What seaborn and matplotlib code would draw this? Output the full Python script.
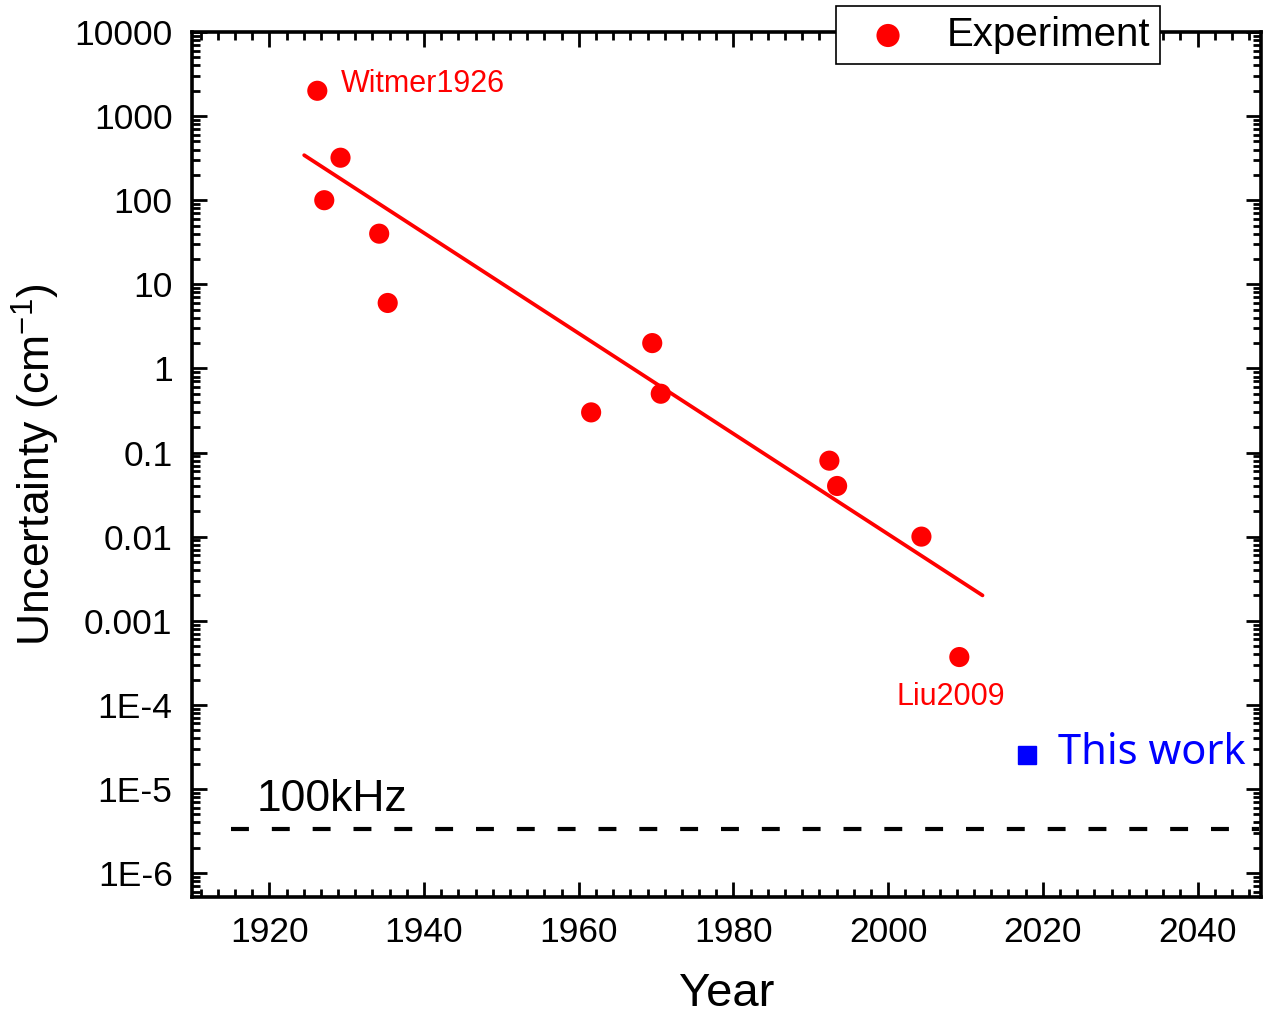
import numpy as np
import pandas as pd
import matplotlib
matplotlib.use("Agg")
import matplotlib.pyplot as plt
from matplotlib.ticker import FixedLocator, LogLocator, NullFormatter
import seaborn as sns

# ---- data ----
exp_years = [1926.2, 1927.1, 1929.2, 1934.2, 1935.3, 1961.6, 1969.5, 1970.6, 1992.4, 1993.4, 2004.3, 2009.2]
exp_unc = [2000, 100, 320, 40, 6, 0.3, 2, 0.5, 0.08, 0.04, 0.01, 3.7e-4]

fit_years = [1924.5, 2012.2]
fit_unc = [343, 0.002]

this_year = [2018]
this_unc = [2.54e-5]

limit_years = [1915, 2048]
limit_unc = [3.34e-6, 3.34e-6]

ytick_vals = [1e4, 1e3, 1e2, 1e1, 1, 0.1, 0.01, 0.001, 1e-4, 1e-5, 1e-6]
ytick_labels = ["10000", "1000", "100", "10", "1", "0.1", "0.01", "0.001", "1E-4", "1E-5", "1E-6"]
xtick_vals = [1920, 1940, 1960, 1980, 2000, 2020, 2040]

sns.set_style("ticks")
plt.rcParams['font.family'] = ['Liberation Sans', 'DejaVu Sans']
plt.rcParams['mathtext.fontset'] = 'custom'
plt.rcParams['mathtext.rm'] = 'Liberation Sans'
for k in ['text.color', 'axes.labelcolor', 'xtick.color', 'ytick.color', 'axes.edgecolor']:
    plt.rcParams[k] = 'black'

fig = plt.figure(figsize=(12.63, 10.19), dpi=100)
ax = fig.add_axes([192/1263, 1-897/1019, (1261-192)/1263, (897-32)/1019])

df = pd.DataFrame({"Year": exp_years, "Unc": exp_unc})
sns.scatterplot(data=df, x="Year", y="Unc", ax=ax, color="#FF0000", s=210,
                edgecolor="none", label="Experiment", zorder=3)
sns.lineplot(x=fit_years, y=fit_unc, ax=ax, color="#FF0000", lw=2.7, zorder=2)
ax.plot(this_year, this_unc, marker="s", ms=12.5, color="#0000FF", ls="none", zorder=3)
ax.plot(limit_years, limit_unc, color="black", lw=3, ls=(0, (4.3, 5.5)), zorder=2)

ax.set_yscale("log")
ax.set_xlim(1910, 2048.2)
ax.set_ylim(10**-6.285, 1e4)

ax.yaxis.set_major_locator(FixedLocator(ytick_vals))
ax.set_yticklabels(ytick_labels)
ax.yaxis.set_minor_locator(LogLocator(base=10, subs=np.arange(2, 10), numticks=50))
ax.yaxis.set_minor_formatter(NullFormatter())
ax.set_xticks(xtick_vals)
ax.xaxis.set_minor_locator(FixedLocator([1920 + k*20/9 for k in range(-5, 60)]))

ax.tick_params(which="both", direction="in", top=True, right=True, width=2, colors="black")
ax.tick_params(which="major", length=11, labelsize=25.5, pad=14)
ax.tick_params(which="minor", length=5.5)
for s in ax.spines.values():
    s.set_linewidth(2.6)
    s.set_color("black")

ax.set_xlabel("Year", fontsize=34, labelpad=16)
ax.set_ylabel(r"Uncertainty (cm$^{\mathregular{-1}}$)", fontsize=32, labelpad=9)

ax.text(1929.3, 2410, "Witmer1926", color="#FF0000", fontsize=22, va="center", ha="left")
ax.text(2001.1, 1.24e-4, "Liu2009", color="#FF0000", fontsize=22, va="center", ha="left")
ax.text(1918.4, 7.4e-6, "100kHz", color="black", fontsize=32, va="center", ha="left")
ax.text(2021.9, 2.67e-5, "This work", color="#0000FF", fontsize=30, va="center", ha="left",
        family=["Noto Sans", "DejaVu Sans"])

leg = ax.legend(loc="upper right", bbox_to_anchor=(1160/1263, 1-6/1019),
                bbox_transform=fig.transFigure, fontsize=29, frameon=True, fancybox=False,
                framealpha=1, edgecolor="black", borderaxespad=0, handletextpad=0.4,
                borderpad=0.25, handlelength=2.1, markerscale=1.15)
leg.get_frame().set_linewidth(1.2)
leg.set_zorder(5)

fig.savefig("out.png", dpi=100)
